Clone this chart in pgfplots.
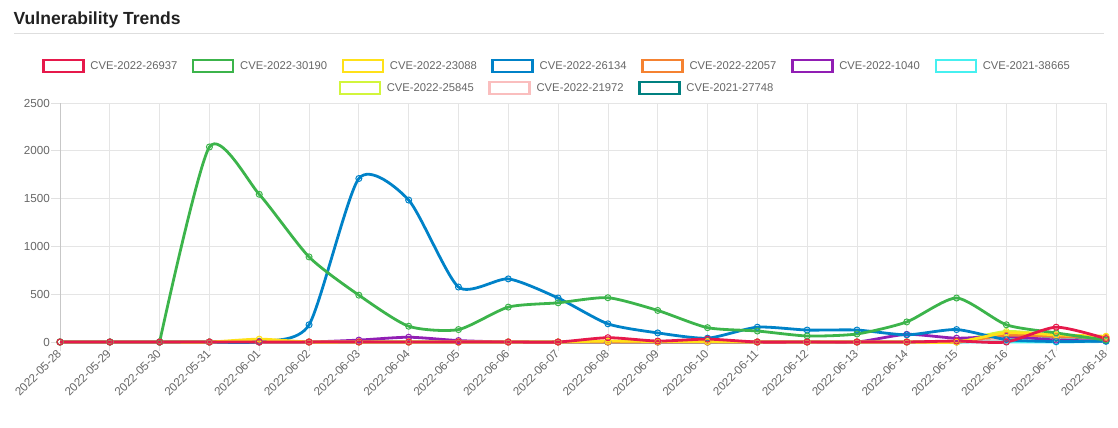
\documentclass[border=0pt]{standalone}
\usepackage{fontspec}
\setmainfont{Liberation Sans}
\usepackage{pgfplots}
\pgfplotsset{compat=1.18}
\usepackage{pgfplotstable}

\definecolor{c1}{HTML}{E6194B}
\definecolor{c2}{HTML}{3CB44B}
\definecolor{c3}{HTML}{FFE119}
\definecolor{c4}{HTML}{0082C8}
\definecolor{c5}{HTML}{F58231}
\definecolor{c6}{HTML}{911EB4}
\definecolor{c7}{HTML}{46F0F0}
\definecolor{c8}{HTML}{D2F53C}
\definecolor{c9}{HTML}{FABEBE}
\definecolor{c10}{HTML}{008080}
\definecolor{txt}{HTML}{666666}

% one row per day, 2022-05-28 .. 2022-06-18
\pgfplotstableread{
x  r    g     y    b     o   p   c  l    k   t
0  0    0     0    0     0   0   0  0    0   0
1  0    0     0    0     0   0   0  0    0   0
2  0    0     0    0     0   0   0  0    0   0
3  0    2040  0    0     0   0   0  0    0   0
4  0    1545  30   5     0   0   0  0    0   0
5  0    890   0    180   0   0   0  0    0   0
6  0    490   0    1710  0   20  0  0    0   0
7  0    165   0    1485  0   50  0  0    0   0
8  0    130   0    575   0   15  0  0    0   0
9  0    365   0    660   0   0   0  0    0   0
10 0    410   0    460   0   0   0  0    0   0
11 45   463   10   190   0   0   0  0    0   0
12 10   330   5    95    0   0   0  0    0   0
13 30   150   5    40    0   0   0  0    0   0
14 0    115   0    155   0   0   0  0    0   0
15 0    63    0    125   0   0   0  0    0   0
16 0    84    0    125   0   0   0  0    0   0
17 0    210   0    75    0   80  0  0    0   0
18 10   460   0    130   0   40  0  10   0   0
19 0    180   95   25    70  60  0  110  20  20
20 155  95    75   5     60  20  0  70   25  35
21 35   20    60   10    50  10  5  40   15  20
}\data

\pgfplotsset{
  line/.style={#1, line width=2.8bp, mark=o, mark size=3bp,
    mark options={line width=1bp}, forget plot},
  cvelegend/.style={
    legend style={draw=none, fill=none, anchor=center, text=txt,
      font=\fontsize{11.3}{13}\selectfont,
      /tikz/every even column/.append style={column sep=12.5bp}},
    legend image code/.code={%
      \path[draw=none] (0bp,0bp) -- (45bp,0bp);
      \draw[##1, line width=2.6bp, fill=white] (0bp,-6bp) rectangle (40bp,6bp);}
  }
}
\newcommand{\series}[2]{%
  \addplot[line=#2, smooth, tension=0.4] table[x=x, y=#1] {\data};}

\begin{document}
\begin{tikzpicture}
\path[use as bounding box] (0,0) rectangle (1118bp,428bp);

\node[anchor=base west, inner sep=0pt, text=black!87,
  font=\bfseries\fontsize{17.6}{20}\selectfont] at (13.5bp,403bp) {Vulnerability Trends};
\draw[black!13, line width=1bp] (14bp,394bp) -- (1104bp,394bp);

\begin{axis}[
  at={(60bp,86bp)}, anchor=south west,
  scale only axis, width=1046bp, height=239bp,
  xmin=0, xmax=21, ymin=0, ymax=2500,
  xtick={0,...,21},
  xticklabels={2022-05-28,2022-05-29,2022-05-30,2022-05-31,2022-06-01,2022-06-02,
    2022-06-03,2022-06-04,2022-06-05,2022-06-06,2022-06-07,2022-06-08,2022-06-09,
    2022-06-10,2022-06-11,2022-06-12,2022-06-13,2022-06-14,2022-06-15,2022-06-16,
    2022-06-17,2022-06-18},
  ytick={0,500,...,2500},
  /pgf/number format/assume math mode=true,
  /pgf/number format/1000 sep={},
  scaled y ticks=false,
  yticklabel style={text=txt, font=\fontsize{11.7}{13}\selectfont, inner sep=1bp},
  xticklabel style={text=txt, font=\fontsize{11.7}{13}\selectfont, rotate=45,
    anchor=east, inner sep=1bp},
  grid=major, major grid style={black!10, line width=0.8bp},
  axis x line*=bottom, axis y line*=left,
  axis line style={black!22, line width=0.8bp, -},
  tick align=outside, major tick length=9bp,
  tick style={black!12, line width=0.8bp},
  clip=false,
  cvelegend,
  legend style={at={(0.4751,1.1548)}},
  legend columns=7,
]
\series{t}{c10}
\series{k}{c9}
\series{l}{c8}
\series{c}{c7}
\series{p}{c6}
\series{o}{c5}
\series{b}{c4}
\series{y}{c3}
% green: flat start drawn straight so the spline does not dip below zero
\addplot[line=c2] table[x=x, y=g, restrict x to domain=0:2] {\data};
\addplot[line=c2, smooth, tension=0.4] table[x=x, y=g, skip coords between index={0}{2}] {\data};
\series{r}{c1}

\addlegendimage{draw=c1}\addlegendentry{CVE-2022-26937}
\addlegendimage{draw=c2}\addlegendentry{CVE-2022-30190}
\addlegendimage{draw=c3}\addlegendentry{CVE-2022-23088}
\addlegendimage{draw=c4}\addlegendentry{CVE-2022-26134}
\addlegendimage{draw=c5}\addlegendentry{CVE-2022-22057}
\addlegendimage{draw=c6}\addlegendentry{CVE-2022-1040}
\addlegendimage{draw=c7}\addlegendentry{CVE-2021-38665}
\end{axis}

\begin{axis}[
  at={(60bp,86bp)}, anchor=south west,
  scale only axis, width=1046bp, height=239bp,
  xmin=0, xmax=1, ymin=0, ymax=1, hide axis,
  cvelegend,
  legend style={at={(0.4751,1.0628)}},
  legend columns=3,
]
\addlegendimage{draw=c8}\addlegendentry{CVE-2022-25845}
\addlegendimage{draw=c9}\addlegendentry{CVE-2022-21972}
\addlegendimage{draw=c10}\addlegendentry{CVE-2021-27748}
\end{axis}
\end{tikzpicture}
\end{document}
